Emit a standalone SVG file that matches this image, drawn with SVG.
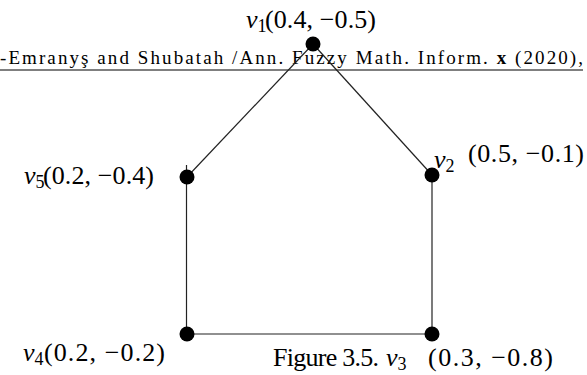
<svg xmlns="http://www.w3.org/2000/svg" width="587" height="375" viewBox="0 0 587 375">
<style>
.t{font-family:"Liberation Serif","DejaVu Serif",serif;fill:#000}
.lab{font-size:26px}
.sub{font-size:18px}
.it{font-style:italic}
.hdr{font-size:19px}
.edge{stroke:#222;stroke-width:1.2;fill:none}
.node{fill:#000}
</style>
<rect width="587" height="375" fill="#fff"/>
<g id="header">
<text class="t hdr" x="0" y="64" textLength="583">-Emranyş and Shubatah /Ann. Fuzzy Math. Inform. <tspan font-weight="bold">x</tspan> (2020),</text>
<line x1="0" y1="70" x2="583" y2="70" stroke="#000" stroke-width="1.2"/>
</g>
<g id="edges">
<line class="edge" x1="313" y1="44" x2="432" y2="175"/>
<line class="edge" x1="313" y1="44" x2="187" y2="177"/>
<line class="edge" x1="432" y1="175" x2="432" y2="334"/>
<line class="edge" x1="432" y1="334" x2="187" y2="334"/>
<line class="edge" x1="186.5" y1="165" x2="186.5" y2="334"/>
</g>
<g id="v1">
<circle class="node" cx="313" cy="44" r="7.5"/>
<text class="t lab" y="28"><tspan class="it" x="246">v</tspan><tspan class="sub" dy="4">1</tspan><tspan x="265" dy="-4" textLength="111">(0.4, −0.5)</tspan></text>
</g>
<g id="v2">
<circle class="node" cx="432" cy="175" r="7.5"/>
<text class="t lab" y="168"><tspan class="it" x="434">v</tspan><tspan class="sub" dy="4">2</tspan><tspan x="468" dy="-10" textLength="116">(0.5, −0.1)</tspan></text>
</g>
<g id="v3">
<circle class="node" cx="432" cy="334" r="7.5"/>
<text class="t lab" y="366"><tspan x="273" textLength="106">Figure 3.5.</tspan><tspan class="it" x="386">v</tspan><tspan class="sub" dy="4">3</tspan><tspan x="428" dy="-4" textLength="125">(0.3, −0.8)</tspan></text>
</g>
<g id="v4">
<circle class="node" cx="187" cy="334" r="7.5"/>
<text class="t lab" y="361"><tspan class="it" x="23">v</tspan><tspan class="sub" dy="4">4</tspan><tspan x="44" dy="-4" textLength="121">(0.2, −0.2)</tspan></text>
</g>
<g id="v5">
<circle class="node" cx="187" cy="177" r="7.5"/>
<text class="t lab" y="184"><tspan class="it" x="24">v</tspan><tspan class="sub" dy="4">5</tspan><tspan x="43" dy="-4" textLength="111">(0.2, −0.4)</tspan></text>
</g>
</svg>
